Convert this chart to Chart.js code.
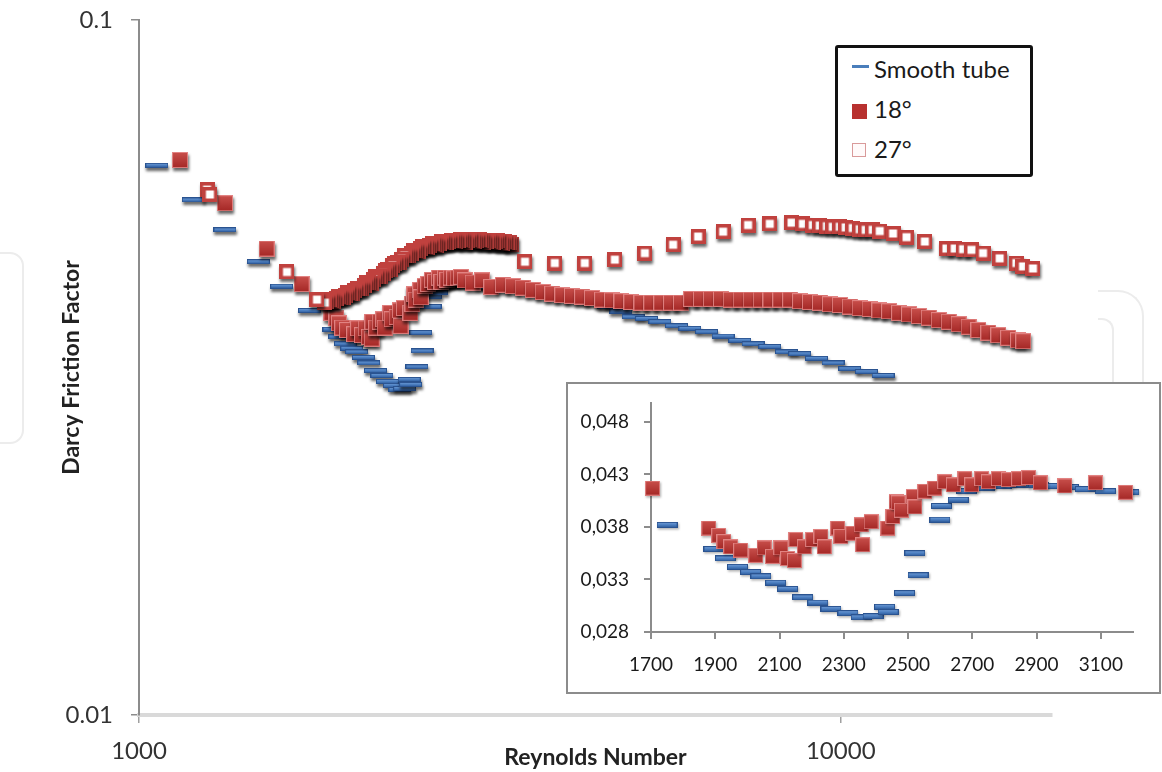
<!DOCTYPE html>
<html>
<head>
<meta charset="utf-8">
<script src="https://cdn.jsdelivr.net/npm/chart.js@4.4.1/dist/chart.umd.min.js"></script>
<style>
  html, body { margin: 0; padding: 0; background: #fff; }
  #wrap { position: relative; width: 1162px; height: 772px; overflow: hidden; font-family: Lato, "Open Sans", sans-serif; }
  #main { position: absolute; left: 0; top: 0; }
  .deco { position: absolute; border: 2px solid #ececec; }
  #inset { position: absolute; left: 566px; top: 382px; width: 595px; height: 312px; box-sizing: border-box; border: 2px solid #8c8c8c; background: #fff; }
  #insetCanvas { position: absolute; left: 0; top: 0; }
  #legend { position: absolute; left: 835px; top: 45px; width: 198px; height: 132px; box-sizing: border-box; border: 3.5px solid #111; border-radius: 3px; background: #fff; }
  .txt { position: absolute; left: 36px; height: 30px; line-height: 30px; font-size: 24px; color: #1a1a1a; white-space: nowrap; }
  .ico { position: absolute; box-sizing: border-box; }
</style>
</head>
<body>
<div id="wrap">
  <div class="deco" style="left:-34px; top:252px; width:54px; height:188px; border-radius:14px;"></div>
  <div class="deco" style="left:1098px; top:290px; width:44px; height:160px; border-left:none; border-bottom:none; border-top-right-radius:26px;"></div>
  <div class="deco" style="left:1098px; top:318px; width:14px; height:120px; border-left:none; border-bottom:none; border-top-right-radius:12px;"></div>
  <canvas id="main" width="1162" height="772"></canvas>
  <div id="legend">
    <div class="ico" style="left:14px; top:17px; width:17px; height:3px; background:#4a7ebb;"></div>
    <div class="txt" style="top:6px;">Smooth tube</div>
    <div class="ico" style="left:14px; top:56px; width:15px; height:15px; background:#b8312f;"></div>
    <div class="txt" style="top:46px;">18°</div>
    <div class="ico" style="left:14px; top:95px; width:14px; height:14px; border:1.5px solid #d99a9a; background:#fffafa;"></div>
    <div class="txt" style="top:86px;">27°</div>
  </div>
  <div id="inset"><canvas id="insetCanvas" width="591" height="308"></canvas></div>
</div>
<script>
// Measured Darcy friction factor against Reynolds number, [Re, f]
const smoothTube = [
  [1060,0.0618],[1195,0.0551],[1326,0.0499],[1479,0.0449],[1597,0.0414],[1750,0.0382],
  [1896,0.0359],[1932,0.0350],[1969,0.0342],[2010,0.0337],[2042,0.0333],[2088,0.0327],
  [2125,0.0321],[2172,0.0313],[2219,0.0308],[2260,0.0302],[2313,0.0298],[2354,0.0294],
  [2391,0.0295],[2427,0.0304],[2438,0.0299],[2489,0.0317],[2521,0.0355],[2531,0.0334],
  [2599,0.0387],[2604,0.0400],[2656,0.0406],[2682,0.0414],[2739,0.0417],[2790,0.0419],
  [2850,0.0420],[2906,0.0420],[2937,0.0419],[2999,0.0418],[3052,0.0416],[3114,0.0414],
  [3187,0.0413],[3370,0.0412],[3560,0.0409],[3760,0.0405],[3970,0.0401],[4190,0.0397],
  [4420,0.0393],[4670,0.0387],[4860,0.0381],[5060,0.0374],[5287,0.0372],[5524,0.0368],
  [5834,0.0363],[6095,0.0360],[6438,0.0356],[6797,0.0351],[7180,0.0346],[7501,0.0342],
  [7922,0.0339],[8367,0.0333],[8741,0.0331],[9235,0.0326],[9750,0.0321],[10299,0.0315],
  [10879,0.0312],[11490,0.0308]
];

const tube18 = [
  [1144,0.0629],[1326,0.0545],[1520,0.0469],[1705,0.0417],
  [1880,0.0379],[1911,0.0372],[1927,0.0366],[1948,0.0361],[1979,0.0358],[2026,0.0353],
  [2052,0.0360],[2078,0.0352],[2104,0.0360],[2125,0.0350],[2146,0.0348],[2151,0.0368],
  [2177,0.0361],[2203,0.0368],[2229,0.0371],[2239,0.0361],[2281,0.0379],[2291,0.0371],
  [2328,0.0374],[2354,0.0382],[2359,0.0363],[2385,0.0385],[2437,0.0379],[2453,0.0390],
  [2463,0.0404],[2469,0.0403],[2479,0.0396],[2516,0.0409],[2521,0.0399],[2552,0.0414],
  [2583,0.0417],[2614,0.0423],[2641,0.0420],[2677,0.0426],[2698,0.0420],[2729,0.0426],
  [2750,0.0423],[2781,0.0426],[2812,0.0425],[2844,0.0426],[2875,0.0427],[2911,0.0422],
  [2988,0.0419],[3083,0.0422],[3177,0.0413],
  [3300,0.0416],[3410,0.0414],[3520,0.0412],[3640,0.0409],[3760,0.0406],[3880,0.0404],
  [4010,0.0402],[4140,0.0401],[4280,0.0400],[4420,0.0398],[4570,0.0396],[4720,0.0395],
  [4870,0.0394],[5030,0.0393],[5200,0.0392],[5370,0.0392],[5550,0.0392],[5730,0.0392],
  [5920,0.0392],[6120,0.0397],[6320,0.0397],[6530,0.0397],[6750,0.0397],[6970,0.0396],
  [7200,0.0396],[7440,0.0396],[7690,0.0396],[7940,0.0396],[8200,0.0396],[8470,0.0396],
  [8750,0.0394],[9040,0.0393],[9340,0.0392],[9650,0.0390],[9970,0.0389],[10300,0.0387],
  [10640,0.0385],[10990,0.0384],[11350,0.0382],[11720,0.0381],[12110,0.0379],[12510,0.0377],
  [12920,0.0375],[13350,0.0373],[13790,0.0370],[14250,0.0368],[14720,0.0365],[15210,0.0362],
  [15710,0.0358],[16230,0.0355],[16770,0.0352],[17320,0.0349],[17890,0.0346],[18200,0.0345]
];

// 27° points; the dense transition sweep is listed from high to low Re
const tube27 = [
  [1250,0.0570],[1262,0.0561],[1625,0.0434],
  [3400,0.0476],[3374,0.0478],[3348,0.0479],[3322,0.0480],[3297,0.0477],[3272,0.0479],
  [3247,0.0481],[3222,0.0480],[3197,0.0478],[3172,0.0480],[3148,0.0481],[3124,0.0480],
  [3100,0.0478],[3076,0.0481],[3053,0.0483],[3029,0.0481],[3006,0.0480],[2983,0.0482],
  [2960,0.0483],[2937,0.0481],[2915,0.0479],[2893,0.0481],[2871,0.0483],[2849,0.0482],
  [2827,0.0480],[2805,0.0481],[2784,0.0482],[2762,0.0480],[2741,0.0478],[2720,0.0479],
  [2699,0.0480],[2678,0.0477],[2658,0.0474],[2638,0.0476],[2618,0.0477],[2598,0.0474],
  [2578,0.0471],[2558,0.0472],[2538,0.0472],[2519,0.0469],[2500,0.0465],[2480,0.0466],
  [2461,0.0466],[2442,0.0462],[2424,0.0458],[2405,0.0458],[2387,0.0458],[2368,0.0453],
  [2350,0.0448],[2332,0.0448],[2314,0.0447],[2296,0.0443],[2279,0.0438],[2261,0.0437],
  [2244,0.0436],[2227,0.0432],[2210,0.0428],[2193,0.0428],[2176,0.0427],[2159,0.0423],
  [2143,0.0418],[2126,0.0419],[2110,0.0419],[2094,0.0415],[2078,0.0411],[2062,0.0411],
  [2046,0.0411],[2030,0.0408],[2015,0.0404],[1999,0.0404],[1984,0.0405],[1969,0.0402],
  [1954,0.0399],[1939,0.0399],[1924,0.0400],[1909,0.0397],[1895,0.0394],[1880,0.0395],
  [1866,0.0396],[1853,0.0393],[1840,0.0392],
  [1793,0.0396],
  [3548,0.0449],[3913,0.0447],[4318,0.0447],[4765,0.0452],[5258,0.0462],[5769,0.0475],
  [6262,0.0488],[6797,0.0496],[7378,0.0507],[7923,0.0509],[8508,0.0511],[8831,0.0509],
  [9124,0.0507],[9336,0.0506],[9553,0.0505],[9741,0.0504],[9968,0.0504],[10165,0.0503],
  [10402,0.0502],[10643,0.0500],[10854,0.0499],[11107,0.0499],[11365,0.0497],[11872,0.0493],
  [12409,0.0487],[13177,0.0480],[14144,0.0469],[14534,0.0469],[14935,0.0468],[15357,0.0467],
  [15949,0.0462],[16845,0.0454],[17793,0.0447],[18182,0.0442],[18790,0.0439]
];

// Axis ticks
const mainXTicks = [1000, 10000];
const mainYTicks = [0.01, 0.1];
const mainYLabels = ['0.01', '0.1'];
const insetXTicks = [1700, 1900, 2100, 2300, 2500, 2700, 2900, 3100];
const insetYTicks = [0.028, 0.033, 0.038, 0.043, 0.048];
const insetRange = [1690, 3200];

const FONT = 'Lato, "Open Sans", sans-serif';

// Marker images (bevelled dash, filled square, hollow square)
function dashMarker(w, h) {
  const c = document.createElement('canvas');
  c.width = w; c.height = h;
  const g = c.getContext('2d');
  const gr = g.createLinearGradient(0, 0, 0, h);
  gr.addColorStop(0, '#7aa3d8');
  gr.addColorStop(0.45, '#4f82c4');
  gr.addColorStop(1, '#2b5999');
  g.fillStyle = gr;
  g.fillRect(0, 0, w, h);
  g.strokeStyle = '#2a5390';
  g.lineWidth = 1;
  g.strokeRect(0.5, 0.5, w - 1, h - 1);
  return c;
}
function filledMarker(s) {
  const c = document.createElement('canvas');
  c.width = s; c.height = s;
  const g = c.getContext('2d');
  const gr = g.createLinearGradient(0, 0, 0, s);
  gr.addColorStop(0, '#c9504c');
  gr.addColorStop(1, '#a42725');
  g.fillStyle = gr;
  g.fillRect(0, 0, s, s);
  g.strokeStyle = 'rgba(235,150,150,0.75)';
  g.lineWidth = 1;
  g.strokeRect(0.5, 0.5, s - 1, s - 1);
  return c;
}
function hollowMarker(s, bw) {
  const c = document.createElement('canvas');
  c.width = s; c.height = s;
  const g = c.getContext('2d');
  g.fillStyle = '#ffffff';
  g.fillRect(0, 0, s, s);
  g.strokeStyle = '#c0413e';
  g.lineWidth = bw;
  g.strokeRect(bw / 2, bw / 2, s - bw, s - bw);
  return c;
}

function toPoints(series, lo, hi) {
  const out = [];
  for (const [re, f] of series) {
    if (re >= lo && re <= hi) out.push({ x: re, y: f });
  }
  return out;
}

// Keep the plot area exactly where the layout padding puts it
function noLabelPadding(s) {
  s.paddingTop = 0; s.paddingBottom = 0; s.paddingLeft = 0; s.paddingRight = 0;
}

// Soft drop shadow under every marker of a dataset
const markerShadow = {
  id: 'markerShadow',
  beforeDatasetDraw(chart, args, opts) {
    const c = chart.ctx;
    c.save();
    c.shadowColor = opts.color;
    c.shadowBlur = opts.blur;
    c.shadowOffsetX = opts.dx;
    c.shadowOffsetY = opts.dy;
  },
  afterDatasetDraw(chart) {
    chart.ctx.restore();
  }
};

Chart.defaults.font.family = FONT;

// Main log-log chart
new Chart(document.getElementById('main'), {
  type: 'scatter',
  data: {
    datasets: [
      { label: 'Smooth tube', data: toPoints(smoothTube, 0, 1e9), pointStyle: dashMarker(23, 5), pointRadius: 7, order: 3, clip: false },
      { label: '18°', data: toPoints(tube18, 0, 1e9), pointStyle: filledMarker(16), pointRadius: 7, order: 2, clip: false },
      { label: '27°', data: toPoints(tube27, 0, 1e9), pointStyle: hollowMarker(15, 3.5), pointRadius: 7, order: 1, clip: false }
    ]
  },
  options: {
    responsive: false,
    animation: false,
    events: [],
    devicePixelRatio: 1,
    layout: { padding: { left: 0, right: 110, top: 20, bottom: 0 } },
    plugins: {
      legend: { display: false },
      tooltip: { enabled: false },
      markerShadow: { color: 'rgba(0,0,0,0.6)', blur: 3, dx: 1, dy: 3 }
    },
    scales: {
      x: {
        type: 'logarithmic', min: 1000, max: 20000,
        afterBuildTicks: s => { s.ticks = mainXTicks.map(v => ({ value: v })); },
        afterFit: s => { s.height = 57; noLabelPadding(s); },
        ticks: { callback: v => String(v), font: { size: 24 }, color: '#333', padding: 14, maxRotation: 0, autoSkip: false },
        grid: { display: true, drawOnChartArea: false, tickLength: 8, color: '#a0a0a0', lineWidth: 1.5 },
        border: { display: true, color: '#d9d9d9', width: 4 },
        title: { display: true, text: 'Reynolds Number', font: { size: 23, weight: 'bold' }, color: '#222', padding: { top: 0, bottom: 1 } }
      },
      y: {
        type: 'logarithmic', min: 0.01, max: 0.1,
        afterBuildTicks: s => { s.ticks = mainYTicks.map(v => ({ value: v })); },
        afterFit: s => { s.width = 139; noLabelPadding(s); },
        ticks: { callback: (v, i) => mainYLabels[i], font: { size: 24 }, color: '#333', padding: 18, autoSkip: false },
        grid: { display: true, drawOnChartArea: false, tickLength: 8, color: '#8c8c8c', lineWidth: 1.5 },
        border: { display: true, color: '#8c8c8c', width: 2 },
        title: { display: true, text: 'Darcy Friction Factor', font: { size: 23, weight: 'bold' }, color: '#222', padding: { top: 58, bottom: 0 } }
      }
    }
  },
  plugins: [markerShadow]
});

// Inset: transition region on linear axes
new Chart(document.getElementById('insetCanvas'), {
  type: 'scatter',
  data: {
    datasets: [
      { label: 'Smooth tube', data: toPoints(smoothTube, insetRange[0], insetRange[1]), pointStyle: dashMarker(21, 6), pointRadius: 7, order: 2, clip: false },
      { label: '18°', data: toPoints(tube18, insetRange[0], insetRange[1]), pointStyle: filledMarker(15), pointRadius: 7, order: 1, clip: false }
    ]
  },
  options: {
    responsive: false,
    animation: false,
    events: [],
    devicePixelRatio: 1,
    layout: { padding: { left: 0, right: 26, top: 19, bottom: 0 } },
    plugins: {
      legend: { display: false },
      tooltip: { enabled: false },
      markerShadow: { color: 'rgba(0,0,0,0.3)', blur: 2, dx: 1, dy: 1.5 }
    },
    scales: {
      x: {
        type: 'linear', min: 1700, max: 3200,
        afterBuildTicks: s => { s.ticks = insetXTicks.map(v => ({ value: v })); },
        afterFit: s => { s.height = 60; noLabelPadding(s); },
        ticks: { callback: v => String(v), font: { size: 19 }, color: '#1a1a1a', padding: 14, maxRotation: 0, autoSkip: false },
        grid: { display: true, drawOnChartArea: false, tickLength: 7, color: '#8c8c8c', lineWidth: 2 },
        border: { display: true, color: '#8c8c8c', width: 2 }
      },
      y: {
        type: 'linear', min: 0.028, max: 0.0498,
        afterBuildTicks: s => { s.ticks = insetYTicks.map(v => ({ value: v })); },
        afterFit: s => { s.width = 83; noLabelPadding(s); },
        ticks: { callback: v => v.toFixed(3).replace('.', ','), font: { size: 19 }, color: '#1a1a1a', padding: 15, autoSkip: false },
        grid: { display: true, drawOnChartArea: false, tickLength: 7, color: '#8c8c8c', lineWidth: 2 },
        border: { display: true, color: '#8c8c8c', width: 2 }
      }
    }
  },
  plugins: [markerShadow]
});
</script>
</body>
</html>
